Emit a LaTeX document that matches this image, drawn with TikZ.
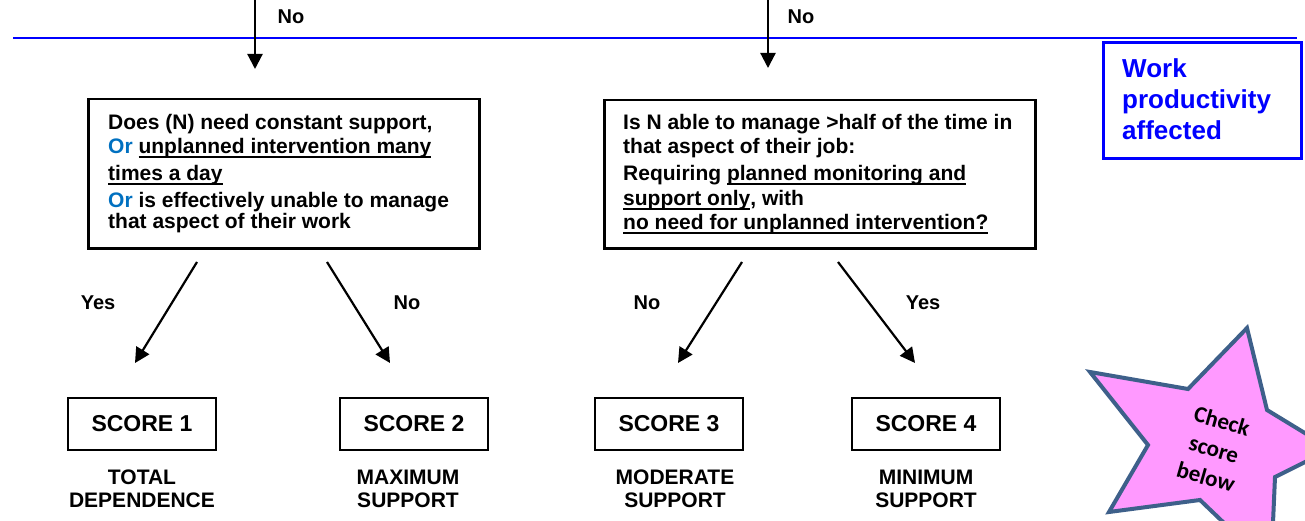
\documentclass[tikz,border=0pt]{standalone}
\usepackage{fontspec}
\setmainfont{Liberation Sans}
\newfontfamily\starfont{Carlito}
\usetikzlibrary{arrows.meta}

\definecolor{orblue}{RGB}{0,112,192}
\definecolor{rulerblue}{RGB}{0,0,255}
\definecolor{starpink}{RGB}{255,153,255}
\definecolor{staredge}{RGB}{62,96,138}

% underline drawn a fixed distance below the baseline
\newcommand\ulbar[1]{\setbox0\hbox{#1}\rlap{\rule[-5pt]{\wd0}{1.8pt}}\box0}
\lineskiplimit=-20pt

\tikzset{
  qbox/.style={draw, line width=2.5pt, anchor=north west, inner sep=0pt},
  qtext/.style={anchor=north west, inner sep=0pt, align=left,
    font=\bfseries\fontsize{21}{23}\selectfont},
  scorebox/.style={draw, line width=2.5pt, minimum width=148pt, minimum height=52pt,
    inner sep=0pt, font=\bfseries\fontsize{23}{25}\selectfont},
  scorelabel/.style={align=center, inner sep=0pt,
    font=\bfseries\fontsize{21}{23}\selectfont},
  answer/.style={inner sep=0pt, font=\bfseries\fontsize{20}{22}\selectfont},
  flow/.style={line width=2.2pt, -{Triangle[length=15pt,width=15pt]}},
}

\begin{document}
\begin{tikzpicture}[x=1pt,y=-1pt]
\useasboundingbox (0,0) rectangle (1305,521);

% separator line
\coordinate (sepL) at (13,38);
\coordinate (sepR) at (1297,38);
\draw[rulerblue, line width=2.6pt] (sepL) -- (sepR);

% incoming arrows
\coordinate (inL) at (255,-2);
\coordinate (inLend) at (255,69);
\coordinate (inR) at (768,-2);
\coordinate (inRend) at (768,68);
\draw[flow] (inL) -- (inLend);
\draw[flow] (inR) -- (inRend);
\node[answer] (noTopL) at (291,17) {No};
\node[answer] (noTopR) at (801,17) {No};

% side note
\node[draw=rulerblue, line width=2.6pt, fill=white, anchor=north west,
      minimum width=198pt, minimum height=116pt, inner sep=0pt] (work) at (1102,41) {};
\node[anchor=north west, inner sep=0pt, align=left, text=rulerblue,
      font=\bfseries\fontsize{26}{31}\selectfont] (worktext) at (1122,58)
  {\rule{0pt}{19pt}Work\\productivity\\affected};

% question boxes
\node[qbox, minimum width=391pt, minimum height=149pt] (q1) at (87,98) {};
\node[qtext] (q1text) at (108,113)
  {\rule{0pt}{16pt}Does (N) need constant support,\\[1pt]
   {\color{orblue}Or} \ulbar{unplanned intervention many}\\[4pt]
   \ulbar{times a day}\\[4pt]
   {\color{orblue}Or} is effectively unable to manage\\[-2pt]
   that aspect of their work};

\node[qbox, minimum width=431pt, minimum height=148pt] (q2) at (603,99) {};
\node[qtext] (q2text) at (623,113)
  {\rule{0pt}{16pt}Is N able to manage >half of the time in\\[1pt]
   that aspect of their job:\\[4pt]
   Requiring \ulbar{planned monitoring and}\\[2pt]
   \ulbar{support only}, with\\[1pt]
   \ulbar{no need for unplanned intervention?}};

% branches
\coordinate (b1s) at (197,262); \coordinate (b1e) at (135,363);
\coordinate (b2s) at (327,262); \coordinate (b2e) at (390,363);
\coordinate (b3s) at (742,262); \coordinate (b3e) at (678,363);
\coordinate (b4s) at (838,262); \coordinate (b4e) at (915,363);
\draw[flow] (b1s) -- (b1e);
\draw[flow] (b2s) -- (b2e);
\draw[flow] (b3s) -- (b3e);
\draw[flow] (b4s) -- (b4e);
\node[answer] (yes1) at (98,303) {Yes};
\node[answer] (no1) at (407,303) {No};
\node[answer] (no2) at (647,303) {No};
\node[answer] (yes2) at (923,303) {Yes};

% scores
\node[scorebox] (s1) at (142,424) {SCORE 1};
\node[scorebox] (s2) at (414,424) {SCORE 2};
\node[scorebox] (s3) at (669,424) {SCORE 3};
\node[scorebox] (s4) at (926,424) {SCORE 4};
\node[scorelabel] (l1) at (142,489) {TOTAL\\DEPENDENCE};
\node[scorelabel] (l2) at (408,489) {MAXIMUM\\SUPPORT};
\node[scorelabel] (l3) at (675,489) {MODERATE\\SUPPORT};
\node[scorelabel] (l4) at (926,489) {MINIMUM\\SUPPORT};

% reminder star
\begin{scope}
  \clip (0,0) rectangle (1305,521);
  \filldraw[fill=starpink, draw=staredge, line width=4pt, line join=miter]
    (1247,328) -- (1267,410) -- (1331,449) -- (1275,477) -- (1271,568)
    -- (1200,500) -- (1109,512) -- (1148,445) -- (1090,372) -- (1188,389) -- cycle;
\end{scope}
\node[rotate=-16, align=center, inner sep=0pt,
      font=\starfont\bfseries\fontsize{23}{29}\selectfont] (check) at (1214,449)
  {Check\\score\\below};
\end{tikzpicture}
\end{document}
